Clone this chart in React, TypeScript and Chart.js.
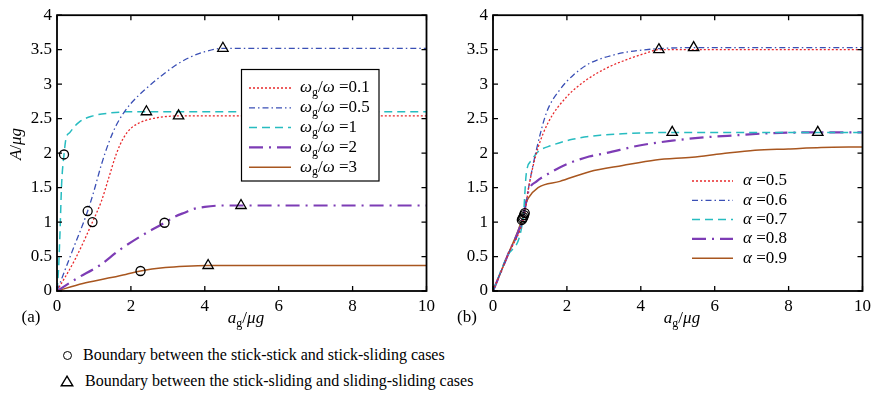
import React, { useEffect, useRef } from "react";
import { Chart, registerables } from "chart.js";

Chart.register(...registerables);

const SERIF = '"Liberation Serif", "Times New Roman", Times, serif';

// Shared axis ticks
const xTickValues = [0, 2, 4, 6, 8, 10];
const yTickValues = [0, 0.5, 1, 1.5, 2, 2.5, 3, 3.5, 4];

// ---- Panel (a): response for several frequency ratios ωg/ω ----
const ratioLabels = ["0.1", "0.5", "1", "2", "3"];

const r01X = [0, 0.5, 0.96, 1.2, 1.4, 1.6, 1.8, 2.0, 2.2, 2.5, 2.8, 3.29, 4, 6, 8, 10];
const r01Y = [0, 0.47, 1.0, 1.3, 1.64, 1.98, 2.22, 2.36, 2.43, 2.49, 2.52, 2.54, 2.54, 2.54, 2.54, 2.54];

const r05X = [0, 0.4, 0.83, 1.0, 1.2, 1.4, 1.6, 1.8, 2.0, 2.4, 2.8, 3.2, 3.6, 4.0, 4.49, 6, 8, 10];
const r05Y = [0, 0.56, 1.16, 1.45, 1.83, 2.15, 2.4, 2.58, 2.72, 2.93, 3.11, 3.27, 3.39, 3.47, 3.52, 3.52, 3.52, 3.52];

const r1X = [0, 0.04, 0.08, 0.125, 0.19, 0.24, 0.35, 0.6, 0.97, 1.4, 2.0, 2.42, 10];
const r1Y = [0, 0.3, 0.83, 1.55, 1.98, 2.2, 2.3, 2.45, 2.54, 2.58, 2.6, 2.6, 2.6];

const r2X = [0, 0.53, 1.15, 1.68, 2.22, 2.91, 3.2, 3.47, 3.7, 4.0, 4.5, 4.98, 10];
const r2Y = [0, 0.18, 0.37, 0.59, 0.78, 0.99, 1.08, 1.14, 1.19, 1.22, 1.24, 1.24, 1.24];

const r3X = [0, 0.7, 1.33, 1.86, 2.26, 2.93, 3.47, 4.09, 10];
const r3Y = [0, 0.11, 0.18, 0.24, 0.29, 0.34, 0.36, 0.37, 0.37];

// boundary points of panel (a)
const aCircleX = [0.19, 0.83, 0.96, 2.91, 2.26];
const aCircleY = [1.98, 1.16, 1.0, 0.99, 0.29];
const aTriangleX = [3.29, 4.49, 2.42, 4.98, 4.09];
const aTriangleY = [2.54, 3.52, 2.6, 1.24, 0.37];

// ---- Panel (b): response for several values of α ----
const alphaLabels = ["0.5", "0.6", "0.7", "0.8", "0.9"];

const a5X = [0, 0.4, 0.86, 0.95, 1.05, 1.22, 1.5, 2.0, 2.5, 3.06, 3.69, 4.14, 4.49, 10];
const a5Y = [0, 0.52, 1.13, 1.45, 1.73, 2.08, 2.45, 2.82, 3.05, 3.23, 3.37, 3.45, 3.5, 3.5];

const a6X = [0, 0.4, 0.84, 0.96, 1.18, 1.45, 1.81, 2.17, 2.61, 3.24, 3.96, 5.43, 10];
const a6Y = [0, 0.52, 1.1, 1.49, 2.06, 2.59, 2.92, 3.13, 3.3, 3.42, 3.49, 3.53, 3.53];

const a7X = [0, 0.4, 0.82, 0.86, 0.9, 1.05, 1.22, 1.58, 2.15, 2.9, 3.5, 4.85, 10];
const a7Y = [0, 0.52, 1.07, 1.4, 1.7, 1.9, 2.02, 2.11, 2.2, 2.26, 2.28, 2.3, 2.3];

const a8X = [0, 0.4, 0.8, 0.9, 0.96, 1.18, 1.5, 2.0, 2.6, 3.06, 3.96, 4.85, 5.75, 6.64, 7.54, 8.79, 10];
const a8Y = [0, 0.52, 1.05, 1.3, 1.45, 1.59, 1.7, 1.84, 1.95, 2.0, 2.11, 2.18, 2.23, 2.26, 2.29, 2.3, 2.3];

const a9X = [0, 0.4, 0.78, 0.9, 0.96, 1.22, 1.81, 2.61, 3.51, 4.4, 5.39, 6.19, 7.09, 7.99, 8.88, 10];
const a9Y = [0, 0.52, 1.03, 1.28, 1.35, 1.5, 1.59, 1.73, 1.82, 1.9, 1.94, 1.99, 2.04, 2.06, 2.08, 2.09];

// boundary points of panel (b)
const bCircleX = [0.86, 0.84, 0.82, 0.8, 0.78];
const bCircleY = [1.13, 1.1, 1.07, 1.05, 1.03];
const bTriangleX = [4.49, 5.43, 4.85, 8.79];
const bTriangleY = [3.5, 3.53, 2.3, 2.3];

// Line styles (same order in both panels)
const seriesColors = ["#e8282b", "#3a4fb5", "#27bcc0", "#7d3cb5", "#a8561f"];
const seriesDash = [[2, 2], [6, 3, 1.5, 3], [8, 5], [14, 6, 2, 6], []];
const seriesWidth = [1.3, 1.3, 1.5, 2.2, 1.5];

const boundaryNotes = [
  "Boundary between the stick-stick and stick-sliding cases",
  "Boundary between the stick-sliding and sliding-sliding cases",
];

type Run = { t: string; it?: boolean; sub?: boolean };

const zip = (xs: number[], ys: number[]) => xs.map((x, i) => ({ x, y: ys[i] }));

function drawRuns(
  ctx: CanvasRenderingContext2D,
  runs: Run[],
  x: number,
  y: number,
  size: number,
  align: "left" | "center" = "left"
) {
  const fontFor = (r: Run) =>
    `${r.it ? "italic " : ""}${r.sub ? Math.round(size * 0.68) : size}px ${SERIF}`;
  let total = 0;
  for (const r of runs) {
    ctx.font = fontFor(r);
    total += ctx.measureText(r.t).width;
  }
  let cx = align === "center" ? x - total / 2 : x;
  ctx.textAlign = "left";
  ctx.textBaseline = "middle";
  ctx.fillStyle = "#000";
  for (const r of runs) {
    ctx.font = fontFor(r);
    ctx.fillText(r.t, cx, r.sub ? y + size * 0.3 : y);
    cx += ctx.measureText(r.t).width;
  }
}

const paperPlugin = {
  id: "paper",
  afterDatasetsDraw(chart: any, _args: any, opts: any) {
    const ctx: CanvasRenderingContext2D = chart.ctx;
    const { left, right, top, bottom } = chart.chartArea;
    const xs = chart.scales.x;
    const ys = chart.scales.y;
    ctx.save();

    // frame with inward ticks on all four sides
    ctx.strokeStyle = "#000";
    ctx.setLineDash([]);
    ctx.lineWidth = 1.3;
    ctx.beginPath();
    for (const t of xs.ticks) {
      const px = xs.getPixelForValue(t.value);
      ctx.moveTo(px, bottom);
      ctx.lineTo(px, bottom - 5);
      ctx.moveTo(px, top);
      ctx.lineTo(px, top + 5);
    }
    for (const t of ys.ticks) {
      const py = ys.getPixelForValue(t.value);
      ctx.moveTo(left, py);
      ctx.lineTo(left + 5, py);
      ctx.moveTo(right, py);
      ctx.lineTo(right - 5, py);
    }
    ctx.stroke();
    ctx.lineWidth = 1.8;
    ctx.strokeRect(left, top, right - left, bottom - top);

    // legend
    const lg = opts.legend;
    if (lg.box) {
      const b = lg.box;
      ctx.fillStyle = "#fff";
      ctx.fillRect(b.x, b.y, b.w, b.h);
      ctx.lineWidth = 1.2;
      ctx.strokeStyle = "#000";
      ctx.strokeRect(b.x, b.y, b.w, b.h);
    }
    lg.labels.forEach((runs: Run[], i: number) => {
      const ds = chart.data.datasets[lg.datasetIndex[i]];
      const y = lg.y0 + i * lg.dy;
      ctx.strokeStyle = ds.borderColor;
      ctx.lineWidth = ds.borderWidth;
      ctx.setLineDash(ds.borderDash || []);
      ctx.beginPath();
      ctx.moveTo(lg.lineX0, y);
      ctx.lineTo(lg.lineX1, y);
      ctx.stroke();
      ctx.setLineDash([]);
      drawRuns(ctx, runs, lg.textX, y, lg.fontSize);
    });

    // axis titles and panel tag
    const xt = opts.xTitle;
    drawRuns(ctx, xt.runs, xt.x, xt.y, xt.size, "center");
    if (opts.yTitle) {
      const yt = opts.yTitle;
      ctx.save();
      ctx.translate(yt.x, yt.y);
      ctx.rotate(-Math.PI / 2);
      drawRuns(ctx, yt.runs, 0, 0, yt.size, "center");
      ctx.restore();
    }
    const pt = opts.tag;
    drawRuns(ctx, [{ t: pt.text }], pt.x, pt.y, pt.size, "center");
    ctx.restore();
  },
};

type PanelSpec = {
  lines: { x: number[]; y: number[] }[];
  circles: { x: number[]; y: number[] };
  triangles: { x: number[]; y: number[] };
  legendLabels: Run[][];
  legend: any;
  yTitle: any;
  tag: string;
  plotLeft: number;
  rightPad: number;
};

const CANVAS_W = 440;
const CANVAS_H = 340;
const PLOT_TOP = 11;
const PLOT_BOTTOM = 291;

function Panel({ spec, left }: { spec: PanelSpec; left: number }) {
  const ref = useRef<HTMLCanvasElement | null>(null);

  useEffect(() => {
    if (!ref.current) return;
    const lineSets = spec.lines.map((s, i) => ({
      type: "line" as const,
      data: zip(s.x, s.y),
      borderColor: seriesColors[i],
      borderWidth: seriesWidth[i],
      borderDash: seriesDash[i],
      pointRadius: 0,
      fill: false,
      cubicInterpolationMode: "monotone" as const,
      order: 2 + i,
    }));
    const markerBase = {
      type: "line" as const,
      showLine: false,
      pointBorderColor: "#000",
      pointBackgroundColor: "rgba(0,0,0,0)",
      pointBorderWidth: 1.3,
      borderColor: "#000",
      order: 0,
      clip: false as any,
    };
    const circleSet = {
      ...markerBase,
      data: zip(spec.circles.x, spec.circles.y),
      pointStyle: "circle",
      pointRadius: 4.5,
    };
    const triangleSet = {
      ...markerBase,
      data: zip(spec.triangles.x, spec.triangles.y),
      pointStyle: "triangle",
      pointRadius: 6,
    };

    const tickFont = { family: SERIF, size: 17 };
    const chart = new Chart(ref.current, {
      type: "line",
      data: { datasets: [...lineSets, circleSet, triangleSet] as any },
      options: {
        responsive: false,
        animation: false,
        devicePixelRatio: 1,
        parsing: false as any,
        layout: { padding: { top: PLOT_TOP, right: spec.rightPad, left: 0, bottom: 0 } },
        plugins: {
          legend: { display: false },
          tooltip: { enabled: false },
          paper: {
            legend: { ...spec.legend, labels: spec.legendLabels, datasetIndex: [0, 1, 2, 3, 4] },
            xTitle: {
              runs: [{ t: "a", it: true }, { t: "g", sub: true }, { t: "/" }, { t: "μg", it: true }],
              x: 246,
              y: 319,
              size: 17,
            },
            yTitle: spec.yTitle,
            tag: { text: spec.tag, x: 31, y: 318, size: 17 },
          },
        } as any,
        scales: {
          x: {
            type: "linear",
            min: 0,
            max: 10,
            afterBuildTicks: (s: any) => {
              s.ticks = xTickValues.map((v) => ({ value: v }));
            },
            afterFit: (s: any) => {
              s.height = CANVAS_H - PLOT_BOTTOM;
            },
            grid: { display: false, drawTicks: false },
            border: { display: false },
            ticks: {
              color: "#000",
              font: tickFont,
              padding: 5,
              maxRotation: 0,
              autoSkip: false,
              callback: (v: any) => String(v),
            },
          },
          y: {
            type: "linear",
            min: 0,
            max: 4,
            afterBuildTicks: (s: any) => {
              s.ticks = yTickValues.map((v) => ({ value: v }));
            },
            afterFit: (s: any) => {
              s.width = spec.plotLeft;
            },
            grid: { display: false, drawTicks: false },
            border: { display: false },
            ticks: {
              color: "#000",
              font: tickFont,
              padding: 5,
              autoSkip: false,
              callback: (v: any) => String(v),
            },
          },
        },
      },
      plugins: [paperPlugin as any],
    });
    return () => chart.destroy();
  }, [spec]);

  return (
    <canvas
      ref={ref}
      width={CANVAS_W}
      height={CANVAS_H}
      style={{ position: "absolute", left, top: 0, width: CANVAS_W, height: CANVAS_H, display: "block" }}
    />
  );
}

const ratioRuns = (v: string): Run[] => [
  { t: "ω", it: true },
  { t: "g", sub: true },
  { t: "/" },
  { t: "ω", it: true },
  { t: " =" + v },
];
const alphaRuns = (v: string): Run[] => [{ t: "α", it: true }, { t: " =" + v }];

const panelA: PanelSpec = {
  lines: [
    { x: r01X, y: r01Y },
    { x: r05X, y: r05Y },
    { x: r1X, y: r1Y },
    { x: r2X, y: r2Y },
    { x: r3X, y: r3Y },
  ],
  circles: { x: aCircleX, y: aCircleY },
  triangles: { x: aTriangleX, y: aTriangleY },
  legendLabels: ratioLabels.map(ratioRuns),
  legend: {
    box: { x: 241.5, y: 69.5, w: 137.5, h: 111.5 },
    lineX0: 249,
    lineX1: 291,
    textX: 300,
    y0: 88,
    dy: 19.8,
    fontSize: 17,
  },
  yTitle: {
    runs: [{ t: "A", it: true }, { t: "/" }, { t: "μg", it: true }],
    x: 17,
    y: 144,
    size: 17,
  },
  tag: "(a)",
  plotLeft: 57,
  rightPad: 9,
};

const panelB: PanelSpec = {
  lines: [
    { x: a5X, y: a5Y },
    { x: a6X, y: a6Y },
    { x: a7X, y: a7Y },
    { x: a8X, y: a8Y },
    { x: a9X, y: a9Y },
  ],
  circles: { x: bCircleX, y: bCircleY },
  triangles: { x: bTriangleX, y: bTriangleY },
  legendLabels: alphaLabels.map(alphaRuns),
  legend: {
    box: null,
    lineX0: 256,
    lineX1: 297,
    textX: 307,
    y0: 181,
    dy: 19.3,
    fontSize: 17,
  },
  yTitle: null,
  tag: "(b)",
  plotLeft: 57,
  rightPad: 11,
};

export default function App() {
  return (
    <div
      style={{
        position: "fixed",
        left: 0,
        top: 0,
        width: 876,
        height: 395,
        background: "#fff",
        overflow: "hidden",
        fontFamily: SERIF,
      }}
    >
      <Panel spec={panelA} left={0} />
      <Panel spec={panelB} left={436} />

      {/* key for the boundary markers */}
      <div
        style={{
          position: "absolute",
          left: 62.5,
          top: 350.5,
          width: 9,
          height: 9,
          border: "1.4px solid #000",
          borderRadius: "50%",
          boxSizing: "border-box",
        }}
      />
      <div
        style={{
          position: "absolute",
          left: 83,
          top: 345,
          fontSize: 16,
          lineHeight: "20px",
          whiteSpace: "nowrap",
          color: "#000",
        }}
      >
        {boundaryNotes[0]}
      </div>
      <svg
        width={14}
        height={12}
        style={{ position: "absolute", left: 60, top: 375 }}
      >
        <polygon points="7,1.2 12.8,10.8 1.2,10.8" fill="none" stroke="#000" strokeWidth={1.4} />
      </svg>
      <div
        style={{
          position: "absolute",
          left: 85,
          top: 371,
          fontSize: 16,
          lineHeight: "20px",
          whiteSpace: "nowrap",
          color: "#000",
        }}
      >
        {boundaryNotes[1]}
      </div>
    </div>
  );
}
